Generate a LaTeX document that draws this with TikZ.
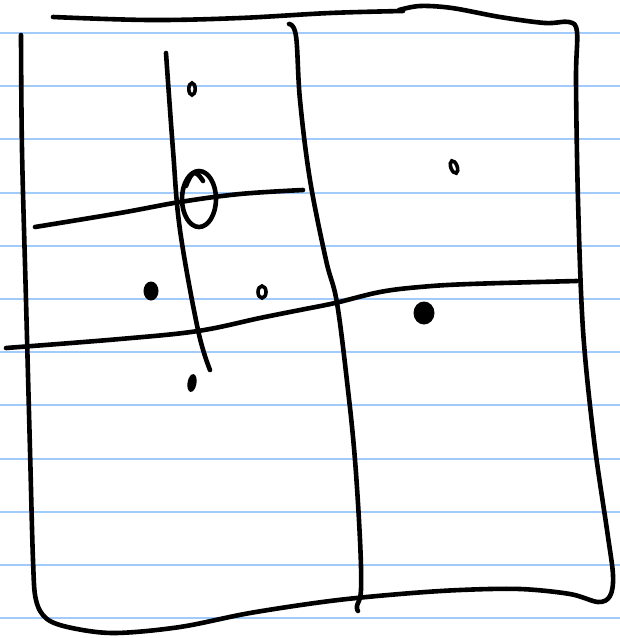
\documentclass[tikz,border=0pt]{standalone}
\usepackage{tikz}
\definecolor{ruleblue}{RGB}{160,203,250}

\begin{document}
\begin{tikzpicture}[x=1pt, y=-1pt,
  rule/.style={draw=ruleblue, line width=1.9pt},
  ink/.style={draw=black, line width=4.6pt, line cap=round, line join=round},
  dot/.style={draw=black, line width=3.6pt},
  blob/.style={fill=black},
]
\fill[white] (0,0) rectangle (620,638);
\useasboundingbox (0,0) rectangle (620,638);
% ruled paper
\foreach \k in {0,...,11} {
  \draw[rule] (0,33+53.2*\k) -- (620,33+53.2*\k);
}
% ---- outer frame: top stroke, then one long stroke round the rest
\draw[ink] plot[smooth, tension=0.6] coordinates {(53,17) (150,20) (240,18) (330,13) (403,11)};
\draw[ink] plot[smooth, tension=0.55] coordinates {(399,10) (420,6) (452,8) (500,17) (545,23) (569,22)
  (577,32) (576,80) (578,200) (583,330) (594,440) (607,530) (613,575) (610,596) (598,602) (570,594)
  (520,589) (460,590) (400,594) (330,601) (250,613) (180,627) (115,633) (72,628) (47,619) (36,600)
  (33,560) (30,450) (26,300) (22,150) (21,35)};
% ---- big cross
\draw[ink] plot[smooth, tension=0.6] coordinates {(289,24) (296,36) (300,100) (310,180) (326,260)
  (337,303) (348,390) (355,460) (360,540) (361,590) (357,606) (358,611)};
\draw[ink] plot[smooth, tension=0.6] coordinates {(6,348) (120,339) (198,331) (260,318) (300,310)
  (335,303) (380,292) (420,287) (470,284) (577,281)};
% ---- small cross in the upper left cell
\draw[ink] plot[smooth, tension=0.6] coordinates {(166,53) (173,150) (180,230) (198,330) (210,370)};
\draw[ink] plot[smooth, tension=0.6] coordinates {(35,227) (120,213) (180,202) (240,194) (303,190)};
% circle round the crossing
\draw[ink] (199,199) ellipse [x radius=17, y radius=28];
\draw[ink] plot[smooth, tension=0.8] coordinates {(186,186) (194,173) (203,181)};
% ---- points
\draw[dot] (192,89) ellipse [x radius=3.2, y radius=6];
\draw[dot, rotate around={20:(454,167)}] (454,167) ellipse [x radius=3.2, y radius=6.5];
\draw[dot] (262,292) ellipse [x radius=4, y radius=6];
\fill[blob] (151,291) ellipse [x radius=7.5, y radius=9.5];
\fill[blob] (424,313) ellipse [x radius=10.5, y radius=11.5];
\fill[blob, rotate around={-10:(192,383)}] (192,383) ellipse [x radius=4.5, y radius=9];
\end{tikzpicture}
\end{document}
